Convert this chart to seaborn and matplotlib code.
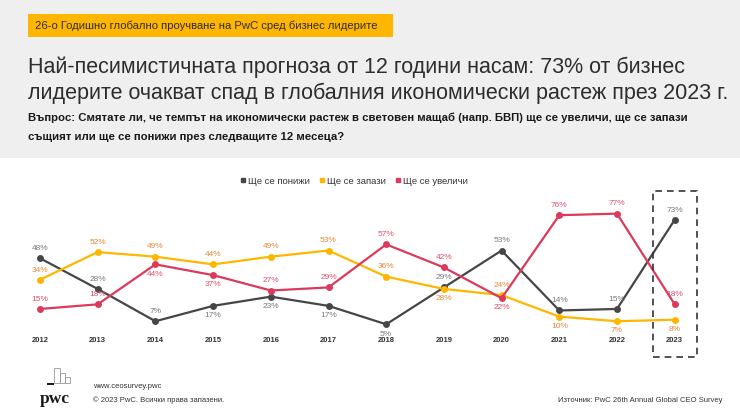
import matplotlib
matplotlib.use("Agg")
import matplotlib.pyplot as plt
import seaborn as sns
import pandas as pd
from matplotlib.lines import Line2D
from matplotlib.patches import Rectangle

years = ["2012", "2013", "2014", "2015", "2016", "2017", "2018", "2019", "2020", "2021", "2022", "2023"]
decrease = [48, 28, 7, 17, 23, 17, 5, 29, 53, 14, 15, 73]
same = [34, 52, 49, 44, 49, 53, 36, 28, 24, 10, 7, 8]
increase = [15, 18, 44, 37, 27, 29, 57, 42, 22, 76, 77, 18]
series_names = ["Ще се понижи", "Ще се запази", "Ще се увеличи"]

# label placement: 1 = above, -1 = below
pos_dec = [1, 1, 1, -1, -1, -1, -1, 1, 1, 1, 1, 1]
pos_same = [1, 1, 1, 1, 1, 1, 1, -1, 1, -1, -1, -1]
pos_inc = [1, 1, -1, -1, 1, 1, 1, 1, -1, 1, 1, 1]

line_colors = ["#464646", "#FFB600", "#DB3A5C"]
label_colors = ["#7a7a7a", "#E8883A", "#E0506E"]

sns.set_theme(style="white")
plt.rcParams["font.family"] = ["Liberation Sans", "DejaVu Sans"]

W, H = 740, 416
fig = plt.figure(figsize=(W / 100, H / 100), dpi=100)
fig.patch.set_facecolor("white")

def fx(px):
    return px / W

def fy(py):
    return 1 - py / H

# gray header band
fig.patches.append(Rectangle((0, fy(158)), 1, 158 / H, transform=fig.transFigure,
                             facecolor="#EFEFEF", edgecolor="none", zorder=0))
# yellow banner
fig.patches.append(Rectangle((fx(28), fy(37)), fx(365), 23 / H, transform=fig.transFigure,
                             facecolor="#FFB600", edgecolor="none", zorder=1))
fig.text(fx(35), fy(25.5), "26-о Годишно глобално проучване на PwC сред бизнес лидерите",
         fontsize=8.1, va="center", ha="left", color="#2d2d2d")

fig.text(fx(28), fy(67), "Най-песимистичната прогноза от 12 години насам: 73% от бизнес",
         fontsize=15.5, va="center", ha="left", color="#2d2d2d")
fig.text(fx(28), fy(93), "лидерите очакват спад в глобалния икономически растеж през 2023 г.",
         fontsize=15.5, va="center", ha="left", color="#2d2d2d")

qfam = ["Liberation Sans Narrow", "Liberation Sans", "DejaVu Sans"]
fig.text(fx(28), fy(118), "Въпрос: Смятате ли, че темпът на икономически растеж в световен мащаб (напр. БВП) ще се увеличи, ще се запази",
         fontsize=8.2, fontweight="bold", va="center", ha="left", color="#1a1a1a", family=qfam)
fig.text(fx(28), fy(137), "същият или ще се понижи през следващите 12 месеца?",
         fontsize=8.2, fontweight="bold", va="center", ha="left", color="#1a1a1a", family=qfam)

# chart axes
ax_l, ax_r, ax_t, ax_b = 20, 700, 170, 360
ax = fig.add_axes([fx(ax_l), fy(ax_b), fx(ax_r - ax_l), (ax_b - ax_t) / H])
ax.set_facecolor("none")

rows = []
for name, vals in zip(series_names, [decrease, same, increase]):
    for i, v in enumerate(vals):
        rows.append({"idx": i, "year": years[i], "value": v, "series": name})
df = pd.DataFrame(rows)

sns.lineplot(data=df, x="idx", y="value", hue="series", hue_order=series_names,
             palette=line_colors, marker="o", markersize=5, markeredgewidth=0,
             linewidth=1.6, ax=ax, legend=False)
ax.set_xlabel("")
ax.set_ylabel("")

step = 57.7
x0 = 40
ax.set_xlim((ax_l - x0) / step, (ax_r - x0) / step)
ppv = 1.537
y0 = 332
ax.set_ylim((y0 - ax_b) / ppv, (y0 - ax_t) / ppv)

for vals, poss, col in zip([decrease, same, increase], [pos_dec, pos_same, pos_inc], label_colors):
    for i, (v, p) in enumerate(zip(vals, poss)):
        ax.annotate(f"{v}%", (i, v), xytext=(0, 7 * p), textcoords="offset points",
                    ha="center", va="center", fontsize=6, color=col)

for i, y in enumerate(years):
    ax.text(i, (y0 - 340) / ppv, y, ha="center", va="center", fontsize=5.5,
            fontweight="bold", color="#333333")

ax.set_xticks([])
ax.set_yticks([])
for s in ax.spines.values():
    s.set_visible(False)

# dashed box around 2023
fig.patches.append(Rectangle((fx(653), fy(357)), fx(44), (357 - 191) / H, transform=fig.transFigure,
                             facecolor="none", edgecolor="#333333", linewidth=1.2,
                             linestyle=(0, (4, 3)), zorder=5))

# legend
handles = [Line2D([0], [0], marker="s", color=c, linestyle="none", markersize=2.5)
           for c in line_colors]
leg = fig.legend(handles, series_names, loc="center", bbox_to_anchor=(fx(354), fy(181)),
                 ncol=3, frameon=False, fontsize=6.8, handlelength=0.6, handletextpad=0.3,
                 columnspacing=0.9, labelcolor="#333333")

# footer
fig.text(fx(40), fy(399), "pwc", fontsize=12.5, fontweight="bold", family=["Liberation Serif"],
         va="center", ha="left", color="#1a1a1a")
for (rx, ry, rw, rh) in [(54, 368, 6, 15), (60, 373, 5, 10), (65, 377, 5, 6)]:
    fig.patches.append(Rectangle((fx(rx), fy(ry + rh)), fx(rw), rh / H, transform=fig.transFigure,
                                 facecolor="none", edgecolor="#999999", linewidth=0.6))
fig.patches.append(Rectangle((fx(47), fy(384.5)), fx(7), 1.5 / H, transform=fig.transFigure,
                             facecolor="#1a1a1a", edgecolor="none"))
fig.text(fx(93), fy(387), "www.ceosurvey.pwc", fontsize=5.5, va="center", ha="left", color="#333333")
fig.text(fx(93), fy(400), "© 2023 PwC. Всички права запазени.", fontsize=5.5, va="center", ha="left", color="#333333")
fig.text(fx(722), fy(400), "Източник: PwC 26th Annual Global CEO Survey", fontsize=5.5, va="center",
         ha="right", color="#333333")

fig.savefig("out.png", dpi=100)
